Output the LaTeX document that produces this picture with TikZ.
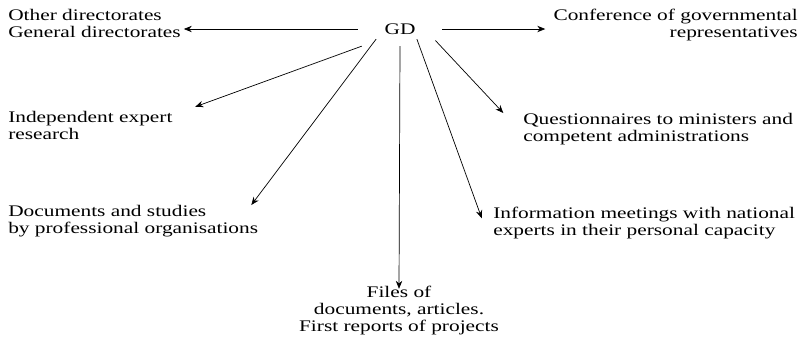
\documentclass[tikz,border=0pt]{standalone}
\usepackage{fontspec}
\setmainfont[FakeStretch=1.32]{Liberation Serif}
\usetikzlibrary{arrows.meta}
\usetikzlibrary{positioning}

\begin{document}
\begin{tikzpicture}[
  x=0.025cm, y=-0.025cm,
  every node/.style={font=\fontsize{11.5}{12.1}\selectfont, inner sep=0pt},
  source/.style={align=left, anchor=north west},
  arr/.style={line width=0.5pt, black, -{Stealth[length=2mm, width=1.6mm]}},
]
\useasboundingbox (0,0) rectangle (802,337);

\node (gd) [minimum width=60, minimum height=24] at (400,29) {GD};

\node (other) [source] at (8,9) {Other directorates\\General directorates};
\node (conf) [align=right, anchor=north east] at (798,9) {Conference of governmental\\representatives};
\node (indep) [source] at (8,111) {Independent expert\\research};
\node (docs) [source] at (8,205) {Documents and studies\\by professional organisations};
\node (quest) [source] at (523,113) {Questionnaires to ministers and\\competent administrations};
\node (info) [source] at (493,207) {Information meetings with national\\experts in their personal capacity};
\node (files) [align=center, anchor=north] at (399,286) {Files of\\documents, articles.\\First reports of projects};

% arrows out of GD
\draw[arr] (gd.west) -- ([xshift=2]other.east |- gd.west);
\draw[arr, shorten >=0.2cm] (gd.east) -- (conf.west |- gd.east);
\draw[arr] ([xshift=3]gd.south west) -- ([xshift=16, yshift=3]indep.north east);
\draw[arr] ([xshift=-17, yshift=5]gd.south) -- ([xshift=-5]docs.north east);
\draw[arr] (gd.south) -- ([yshift=-2]files.north);
\draw[arr] ([xshift=-5, yshift=4]gd.south east) -- ([xshift=-14]quest.north west);
\draw[arr] ([xshift=12, yshift=5]gd.south) -- ([xshift=-8, yshift=-8]info.north west);
\end{tikzpicture}
\end{document}
